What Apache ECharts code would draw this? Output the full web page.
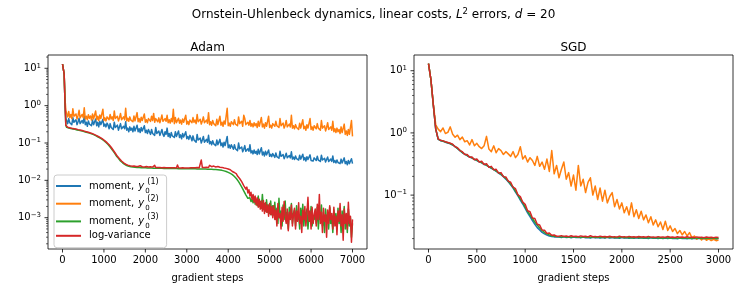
<!DOCTYPE html>
<html><head><meta charset="utf-8">
<script src="https://cdn.jsdelivr.net/npm/echarts@6/dist/echarts.min.js"></script>
<style>html,body{margin:0;padding:0;background:#fff}#c{width:747px;height:307px}</style>
</head><body><div id="c"></div>
<script>
// ---------- data ----------
const seriesNames = ['moment, y0(1)', 'moment, y0(2)', 'moment, y0(3)', 'log-variance'];
const colors = ['#1f77b4', '#ff7f0e', '#2ca02c', '#d62728'];

const adamSteps = [0,20,40,60,80,
100,125,150,175,200,225,250,275,300,325,350,375,400,425,450,475,500,525,550,575,600,625,650,675,700,725,750,775,800,825,850,875,900,925,950,975,1000,1025,1050,1075,
1100,1125,1150,1175,1200,1225,1250,1275,1300,1325,1350,1375,1400,1425,1450,1475,1500,1525,1550,1575,1600,1625,1650,1675,1700,1725,1750,1775,1800,1825,1850,1875,1900,1925,1950,1975,2000,2025,2050,2075,
2100,2125,2150,2175,2200,2225,2250,2275,2300,2325,2350,2375,2400,2425,2450,2475,2500,2525,2550,2575,2600,2625,2650,2675,2700,2725,2750,2775,2800,2825,2850,2875,2900,2925,2950,2975,3000,3025,3050,3075,
3100,3125,3150,3175,3200,3225,3250,3275,3300,3325,3350,3375,3400,3425,3450,3475,3500,3525,3550,3575,3600,3625,3650,3675,3700,3725,3750,3775,3800,3825,3850,3875,3900,3925,3950,3975,4000,4025,4050,4075,
4100,4125,4150,4175,4200,4225,4250,4275,4300,4325,4350,4375,4400,4425,4450,4475,4500,4525,4550,4575,4600,4625,4650,4675,4700,4725,4750,4775,4800,4825,4850,4875,4900,4925,4950,4975,5000,5025,5050,5075,
5100,5125,5150,5175,5200,5225,5250,5275,5300,5325,5350,5375,5400,5425,5450,5475,5500,5525,5550,5575,5600,5625,5650,5675,5700,5725,5750,5775,5800,5825,5850,5875,5900,5925,5950,5975,6000,6025,6050,6075,
6100,6125,6150,6175,6200,6225,6250,6275,6300,6325,6350,6375,6400,6425,6450,6475,6500,6525,6550,6575,6600,6625,6650,6675,6700,6725,6750,6775,6800,6825,6850,6875,6900,6925,6950,6975,7000];

const adamM1 = [12.9,11.8,7.0,1.3,0.45,
0.42,0.33,0.45,0.35,0.39,0.31,0.48,0.36,0.33,0.42,0.31,0.37,0.46,0.33,0.31,0.40,0.34,0.52,0.31,0.36,
0.28,0.39,0.32,0.36,0.29,0.41,0.31,0.33,0.44,0.29,0.36,0.27,0.38,0.31,0.29,0.43,0.28,0.32,0.27,0.34,
0.30,0.24,0.33,0.26,0.29,0.23,0.36,0.26,0.24,0.30,0.22,0.27,0.33,0.24,0.22,0.28,0.24,0.37,0.22,0.25,
0.20,0.27,0.22,0.25,0.20,0.28,0.21,0.23,0.30,0.20,0.24,0.19,0.26,0.21,0.20,0.29,0.19,0.22,0.18,0.23,
0.21,0.17,0.23,0.18,0.20,0.16,0.26,0.18,0.17,0.21,0.16,0.19,0.23,0.17,0.15,0.20,0.17,0.25,0.15,0.18,
0.14,0.19,0.155,0.175,0.14,0.2,0.15,0.16,0.21,0.14,0.165,0.13,0.18,0.145,0.14,0.2,0.13,0.15,0.125,0.16,
0.14,0.115,0.155,0.12,0.135,0.105,0.17,0.12,0.11,0.135,0.1,0.12,0.15,0.105,0.1,0.125,0.105,0.16,0.095,0.11,
0.09,0.115,0.095,0.105,0.085,0.12,0.09,0.095,0.125,0.085,0.1,0.078,0.105,0.085,0.08,0.15,0.075,0.088,0.072,0.09,
0.085,0.068,0.09,0.07,0.078,0.062,0.1,0.07,0.064,0.078,0.058,0.068,0.085,0.06,0.057,0.07,0.06,0.09,0.054,0.062,
0.051,0.065,0.053,0.06,0.049,0.068,0.051,0.055,0.075,0.048,0.057,0.045,0.06,0.048,0.046,0.065,0.044,0.05,0.043,0.052,
0.05,0.041,0.054,0.043,0.047,0.039,0.06,0.044,0.041,0.049,0.038,0.044,0.053,0.04,0.038,0.046,0.04,0.058,0.037,0.042,
0.036,0.045,0.038,0.042,0.035,0.047,0.037,0.039,0.05,0.035,0.041,0.033,0.043,0.036,0.035,0.048,0.034,0.038,0.033,0.04,
0.041,0.034,0.044,0.035,0.038,0.032,0.047,0.035,0.033,0.039,0.031,0.035,0.042,0.032,0.03,0.037,0.032,0.045,0.03,0.034,
0.029,0.035,0.03,0.033,0.028,0.037,0.029,0.031,0.04,0.028,0.032,0.026,0.034,0.028,0.027,0.038,0.028];

const adamM2 = [12.9,11.8,7.2,1.6,0.75,
0.62,0.5,0.7,0.48,0.58,0.45,0.82,0.52,0.47,0.6,0.44,0.54,0.75,0.47,0.43,0.58,0.48,0.88,0.44,0.52,
0.42,0.57,0.46,0.53,0.41,0.6,0.44,0.48,0.72,0.42,0.52,0.4,0.56,0.45,0.42,0.8,0.4,0.47,0.39,0.5,
0.52,0.42,0.58,0.44,0.5,0.4,0.72,0.45,0.41,0.52,0.39,0.47,0.62,0.42,0.39,0.5,0.42,0.85,0.39,0.46,
0.38,0.5,0.41,0.46,0.37,0.53,0.39,0.42,0.65,0.37,0.45,0.36,0.49,0.4,0.37,0.6,0.36,0.42,0.35,0.45,
0.47,0.38,0.52,0.4,0.62,0.36,0.45,0.41,0.37,0.47,0.35,0.43,0.56,0.38,0.35,0.45,0.38,0.55,0.35,0.42,
0.34,0.45,0.37,0.8,0.33,0.48,0.35,0.38,0.46,0.34,0.41,0.32,0.44,0.36,0.33,0.55,0.32,0.38,0.31,0.41,
0.43,0.35,0.48,0.36,0.41,0.33,0.58,0.37,0.34,0.43,0.32,0.39,0.5,0.35,0.32,0.41,0.34,0.65,0.31,0.37,
0.3,0.4,0.33,0.37,0.29,0.43,0.31,0.34,0.52,0.3,0.36,0.28,0.39,0.32,0.29,0.85,0.29,0.34,0.28,0.37,
0.38,0.31,0.42,0.32,0.36,0.29,0.5,0.33,0.3,0.38,0.28,0.55,0.45,0.31,0.28,0.36,0.3,0.4,0.28,0.33,
0.27,0.35,0.29,0.33,0.26,0.38,0.28,0.3,0.48,0.27,0.32,0.25,0.35,0.28,0.26,0.52,0.26,0.3,0.25,0.33,
0.34,0.28,0.38,0.29,0.32,0.26,0.45,0.29,0.27,0.34,0.25,0.3,0.4,0.27,0.25,0.32,0.27,0.55,0.25,0.29,
0.24,0.31,0.26,0.29,0.23,0.34,0.25,0.27,0.42,0.24,0.28,0.22,0.31,0.25,0.23,0.45,0.23,0.27,0.22,0.29,
0.3,0.24,0.33,0.25,0.28,0.22,0.4,0.25,0.23,0.29,0.21,0.26,0.35,0.23,0.21,0.27,0.22,0.38,0.2,0.24,
0.19,0.25,0.2,0.23,0.18,0.27,0.19,0.2,0.32,0.17,0.21,0.16,0.23,0.17,0.16,0.4,0.15];

const adamM3 = [12.9,11.8,7.0,1.2,0.3,
0.262,0.257,0.252,0.247,0.243,0.24,0.237,0.234,0.232,0.228,0.224,0.221,0.218,0.215,0.211,0.208,0.205,0.201,0.198,0.195,
0.191,0.187,0.184,0.18,0.176,0.172,0.167,0.162,0.157,0.152,0.147,0.142,0.137,0.132,0.126,0.121,0.115,0.109,0.103,0.097,
0.091,0.085,0.078,0.072,0.066,0.06,0.055,0.05,0.045,0.042,0.039,0.036,0.033,0.031,0.0295,0.028,0.0268,0.0258,0.025,0.0244,
0.0239,0.0235,0.0232,0.0229,0.0227,0.0225,0.0223,0.0222,0.0221,0.022,0.0219,0.0218,0.0218,0.0217,0.0217,0.0216,0.0216,0.0215,0.0215,0.0214,
0.0214,0.0213,0.0213,0.0213,0.0212,0.0212,0.0212,0.0211,0.0211,0.0211,0.021,0.021,0.021,0.0209,0.0209,0.0209,0.0208,0.0208,0.0208,0.0207,
0.0207,0.0207,0.0207,0.0206,0.0206,0.0206,0.0206,0.0205,0.0205,0.0205,0.0205,0.0205,0.0204,0.0204,0.0204,0.0204,0.0204,0.0204,0.0204,0.0204,
0.0204,0.0204,0.0203,0.0203,0.0203,0.0203,0.0202,0.0202,0.0202,0.0201,0.0201,0.0201,0.02,0.02,0.02,0.0199,0.0199,0.0198,0.0198,0.0197,
0.0197,0.0196,0.0196,0.0195,0.0194,0.0193,0.0192,0.0191,0.0189,0.0187,0.0185,0.0182,0.0179,0.0176,0.0172,0.0168,0.0163,0.0158,0.0153,0.0148,
0.0142,0.0135,0.0127,0.0119,0.011,0.0101,0.0092,0.0083,0.0074,0.0066,0.0059,0.0052,0.0046,0.0041,0.0037,0.0033,0.003,0.0034,0.0027,0.0031,
0.0025,0.0036,0.0023,0.0029,0.0021,0.0038,0.002,0.0027,0.0018,0.0042,0.0017,0.0024,0.0015,0.003,0.0014,0.0022,0.0013,0.0028,0.0012,0.0021,
0.0012,0.0026,0.0009,0.0018,0.0007,0.0033,0.001,0.0015,0.0006,0.0022,0.0009,0.0028,0.0008,0.0014,0.0005,0.0019,0.001,0.0024,0.0007,0.0013,
0.0016,0.0006,0.0021,0.0009,0.0012,0.0005,0.0018,0.0008,0.0023,0.0006,0.0014,0.0009,0.0017,0.0005,0.0012,0.0008,0.002,0.0006,0.0011,0.0009,
0.0015,0.0007,0.0019,0.0005,0.0013,0.0009,0.0022,0.0006,0.0011,0.0004,0.0017,0.0008,0.0012,0.0005,0.0019,0.0007,0.001,0.0004,0.0016,0.0008,
0.0013,0.0005,0.0018,0.0007,0.0011,0.0004,0.0015,0.0006,0.002,0.0005,0.0012,0.0004,0.0017,0.0006,0.001,0.0003,0.0007];

const adamLV = [12.9,11.8,7.0,1.2,0.3,
0.27,0.265,0.26,0.255,0.25,0.248,0.245,0.242,0.24,0.236,0.232,0.228,0.225,0.222,0.218,0.215,0.212,0.208,0.205,0.201,
0.198,0.194,0.19,0.186,0.182,0.178,0.173,0.168,0.163,0.158,0.152,0.147,0.142,0.137,0.131,0.126,0.12,0.114,0.108,0.102,
0.096,0.09,0.083,0.077,0.07,0.064,0.058,0.053,0.048,0.044,0.041,0.038,0.035,0.033,0.031,0.0295,0.028,0.027,0.026,0.0255,
0.025,0.0246,0.0243,0.024,0.0236,0.0242,0.0232,0.0236,0.0229,0.0234,0.0228,0.0245,0.0226,0.0231,0.0225,0.0229,0.0224,0.0235,0.0223,0.0228,
0.0222,0.0232,0.0221,0.0226,0.022,0.0252,0.0221,0.0228,0.0219,0.0233,0.022,0.0225,0.0218,0.0242,0.0219,0.0224,0.0217,0.0229,0.0216,0.0223,
0.0218,0.0236,0.0217,0.0222,0.0216,0.0228,0.0215,0.0258,0.0217,0.0222,0.0215,0.0231,0.0216,0.0221,0.0214,0.0226,0.0215,0.0238,0.0214,0.022,
0.0218,0.0235,0.0216,0.0224,0.0217,0.0241,0.0219,0.0226,0.0218,0.0232,0.035,0.0222,0.0229,0.022,0.0245,0.0223,0.0236,0.0221,0.0252,0.0224,
0.0232,0.0222,0.0241,0.0221,0.0228,0.0219,0.0235,0.0216,0.0224,0.0212,0.0222,0.0207,0.0214,0.0202,0.0209,0.0196,0.0201,0.0188,0.0192,0.0178,
0.0172,0.0158,0.0162,0.0145,0.0148,0.013,0.0128,0.0112,0.0108,0.0092,0.0094,0.0072,0.0078,0.0058,0.0066,0.0046,0.0056,0.0038,0.0048,0.0031,
0.0042,0.0026,0.0038,0.0022,0.0034,0.0019,0.0031,0.0017,0.0028,0.0015,0.0029,0.0013,0.0025,0.0014,0.0022,0.0011,0.0024,0.0012,0.002,0.001,
0.0021,0.0009,0.0016,0.0006,0.0024,0.001,0.0013,0.0005,0.0019,0.0008,0.0027,0.0011,0.0007,0.0017,0.00045,0.0014,0.0009,0.0022,0.0006,0.0012,
0.0018,0.0005,0.0015,0.0008,0.0025,0.0007,0.0011,0.0004,0.0016,0.0009,0.002,0.0006,0.0013,0.0035,0.0008,0.0015,0.0005,0.0019,0.0007,0.0012,
0.0017,0.0006,0.0023,0.0009,0.0042,0.0007,0.0014,0.0004,0.0018,0.0008,0.0012,0.0003,0.0016,0.0007,0.0021,0.0009,0.0013,0.0005,0.0019,0.0006,
0.0011,0.00035,0.0015,0.0008,0.0024,0.0006,0.0012,0.00025,0.0017,0.0007,0.0013,0.0005,0.0026,0.0007,0.0011,0.00022,0.0009];

const sgdSteps = [0,25,50,75,100,125,150,175,200,225,250,275,300,325,350,375,400,425,450,475,
500,525,550,575,600,625,650,675,700,725,750,775,800,825,850,875,900,925,950,975,
1000,1025,1050,1075,1100,1125,1150,1175,1200,1225,1250,1275,1300,1325,1350,1375,1400,1425,1450,1475,
1500,1525,1550,1575,1600,1625,1650,1675,1700,1725,1750,1775,1800,1825,1850,1875,1900,1925,1950,1975,
2000,2025,2050,2075,2100,2125,2150,2175,2200,2225,2250,2275,2300,2325,2350,2375,2400,2425,2450,2475,
2500,2525,2550,2575,2600,2625,2650,2675,2700,2725,2750,2775,2800,2825,2850,2875,2900,2925,2950,2975,3000];

const sgdM1 = [13,7.2,2.8,1.15,0.79,0.75,0.735,0.71,0.69,0.67,0.64,0.6,0.56,0.52,0.48,0.455,0.43,0.41,0.395,0.375,
0.36,0.343,0.33,0.313,0.3,0.285,0.27,0.256,0.242,0.226,0.213,0.197,0.181,0.164,0.146,0.13,0.112,0.097,0.083,0.072,
0.061,0.052,0.045,0.039,0.034,0.03,0.0275,0.0252,0.0238,0.0227,0.022,0.0216,0.0213,0.0212,
0.0212,0.0209,0.0213,0.0208,0.0211,0.0207,0.0212,0.0208,0.021,0.0206,0.0211,0.0207,0.0209,0.0205,0.021,0.0206,0.0209,0.0205,0.0208,0.0204,
0.0209,0.0205,0.0208,0.0204,0.0207,0.0203,0.0208,0.0204,0.0207,0.0203,0.0206,0.0202,0.0207,0.0203,0.0206,0.0202,0.0205,0.0201,0.0206,0.0202,
0.0205,0.0201,0.0204,0.02,0.0205,0.0201,0.0204,0.02,0.0203,0.0199,0.0204,0.02,0.0203,0.0199,0.0202,0.0198,0.0203,0.0199,0.0202,0.0198,
0.0201,0.0197,0.0202,0.0198,0.0201,0.0197,0.02];

const sgdM2 = [13,7.2,2.9,1.35,1.15,1.05,1.2,0.98,1.02,1.25,0.95,0.85,0.92,0.78,0.86,0.72,0.75,0.64,0.78,0.62,
0.68,0.6,0.56,0.62,0.88,0.55,0.5,0.62,0.48,0.56,0.52,0.45,0.5,0.46,0.42,0.5,0.4,0.45,0.6,0.38,
0.43,0.34,0.4,0.36,0.3,0.42,0.29,0.34,0.26,0.38,0.24,0.52,
0.22,0.3,0.19,0.26,0.34,0.18,0.23,0.14,0.21,0.12,0.3,0.14,0.18,0.11,0.16,0.19,0.1,0.14,0.085,0.13,0.08,0.12,0.075,0.095,0.11,0.065,0.085,0.06,
0.075,0.052,0.065,0.048,0.075,0.045,0.058,0.042,0.055,0.04,0.048,0.036,0.045,0.033,0.04,0.031,0.037,0.028,0.038,0.027,
0.032,0.026,0.029,0.024,0.027,0.023,0.026,0.022,0.025,0.0205,0.022,0.0195,0.021,0.019,0.0205,0.0188,0.0198,0.0186,0.0195,0.0185,0.019];

const sgdM3 = [13,7.2,2.8,1.15,0.8,0.755,0.74,0.715,0.695,0.675,0.645,0.605,0.565,0.525,0.485,0.455,0.435,0.412,0.398,0.377,
0.365,0.345,0.334,0.315,0.304,0.287,0.275,0.259,0.246,0.229,0.217,0.201,0.185,0.169,0.15,0.135,0.116,0.101,0.087,0.076,
0.064,0.055,0.048,0.042,0.037,0.033,0.0295,0.027,0.025,0.0238,0.0229,0.0222,0.0218,0.0216,
0.0215,0.0212,0.0216,0.0211,0.0214,0.021,0.0215,0.0211,0.0213,0.0209,0.0214,0.021,0.0212,0.0208,0.0213,0.0209,0.0212,0.0208,0.0211,0.0207,
0.0212,0.0208,0.0211,0.0207,0.021,0.0206,0.0211,0.0207,0.021,0.0206,0.0209,0.0205,0.021,0.0206,0.0209,0.0205,0.0208,0.0204,0.0209,0.0205,
0.0208,0.0204,0.0207,0.0203,0.0208,0.0204,0.0207,0.0203,0.0206,0.0202,0.0207,0.0203,0.0206,0.0202,0.0205,0.0201,0.0206,0.0202,0.0205,0.0201,
0.0204,0.02,0.0205,0.0201,0.0204,0.02,0.0203];

const sgdLV = [13,7.2,2.8,1.15,0.8,0.76,0.745,0.72,0.7,0.68,0.66,0.6,0.58,0.52,0.5,0.45,0.45,0.405,0.41,0.37,
0.38,0.34,0.35,0.31,0.32,0.28,0.29,0.255,0.26,0.226,0.23,0.198,0.196,0.168,0.161,0.134,0.127,0.101,0.095,0.077,
0.071,0.056,0.054,0.043,0.042,0.034,0.033,0.0275,0.0272,0.0242,0.0245,0.0226,0.0228,0.0218,
0.0219,0.0223,0.0217,0.022,0.0215,0.0222,0.0216,0.0219,0.0214,0.0221,0.0216,0.0218,0.0213,0.0222,0.0215,0.0217,0.0213,0.0219,0.0214,0.0216,
0.0212,0.0218,0.0213,0.0215,0.0211,0.0219,0.0213,0.0215,0.0211,0.0217,0.0212,0.0214,0.021,0.0216,0.0212,0.0214,0.021,0.0217,0.0211,0.0213,
0.0209,0.0215,0.0211,0.0213,0.0209,0.0216,0.021,0.0212,0.0208,0.0214,0.021,0.0212,0.0208,0.0214,0.0209,0.0211,0.0207,0.0213,0.0209,0.0211,
0.0207,0.0212,0.0208,0.021,0.0206,0.0211,0.0208];

const adamXTicks = [0,1000,2000,3000,4000,5000,6000,7000];
const sgdXTicks = [0,500,1000,1500,2000,2500,3000];
const adamYMajor = [1e-3,1e-2,1e-1,1,10];
const adamYMinor = [2e-4,3e-4,4e-4,5e-4,6e-4,7e-4,8e-4,9e-4,2e-3,3e-3,4e-3,5e-3,6e-3,7e-3,8e-3,9e-3,
  0.02,0.03,0.04,0.05,0.06,0.07,0.08,0.09,0.2,0.3,0.4,0.5,0.6,0.7,0.8,0.9,2,3,4,5,6,7,8,9,20];
const sgdYMajor = [0.1,1,10];
const sgdYMinor = [0.02,0.03,0.04,0.05,0.06,0.07,0.08,0.09,0.2,0.3,0.4,0.5,0.6,0.7,0.8,0.9,2,3,4,5,6,7,8,9];

// axis ranges
const adamXRange = [-350, 7350], adamYRange = [1.45e-4, 22.7];
const sgdXRange = [-150, 3150], sgdYRange = [0.0136, 17.9];

// ---------- chart ----------
const FONT = 'DejaVu Sans';
const chart = echarts.init(document.getElementById('c'), null, {renderer: 'canvas'});

function yFmt(v) {
  const e = Math.log10(v), r = Math.round(e);
  if (Math.abs(e - r) > 1e-6) return '';
  return '{b|10}{s|' + String(r).replace('-', '\u2212') + '}';
}
const yRich = {
  b: {fontFamily: FONT, fontSize: 10, lineHeight: 12, color: '#000'},
  s: {fontFamily: FONT, fontSize: 7, lineHeight: 7, verticalAlign: 'top', color: '#000'}
};
function xAxisCfg(idx, range, ticks, step) {
  return {
    type: 'value', gridIndex: idx, min: range[0], max: range[1],
    minInterval: step, maxInterval: step,
    axisLine: {show: false}, axisTick: {show: false}, splitLine: {show: false},
    axisLabel: {formatter: v => ticks.indexOf(v) >= 0 ? String(v) : '', margin: 6,
      fontFamily: FONT, fontSize: 10, color: '#000'},
    name: 'gradient steps', nameLocation: 'middle', nameGap: 24,
    nameTextStyle: {fontFamily: FONT, fontSize: 10, color: '#000'}
  };
}
function yAxisCfg(idx, range) {
  return {
    type: 'log', logBase: 10, gridIndex: idx, min: range[0], max: range[1],
    axisLine: {show: false}, axisTick: {show: false}, splitLine: {show: false},
    axisLabel: {formatter: yFmt, rich: yRich, margin: 7, color: '#000'}
  };
}
function lineSeries(idx, steps, vals, k) {
  return {
    type: 'line', name: seriesNames[k], xAxisIndex: idx, yAxisIndex: idx,
    data: steps.map((s, i) => [s, vals[i]]),
    showSymbol: false, symbol: 'none', animation: false, z: 2 + k,
    lineStyle: {width: 1.5, color: colors[k], join: 'round'},
    itemStyle: {color: colors[k]}
  };
}
function tickSeries(idx, pts, dir, len, width) {
  return {
    type: 'custom', xAxisIndex: idx, yAxisIndex: idx, silent: true, clip: false, z: 10,
    animation: false, data: pts,
    renderItem: function (params, api) {
      const p = api.coord([api.value(0), api.value(1)]);
      const shape = dir === 'y' ? {x1: p[0] - len, y1: p[1], x2: p[0], y2: p[1]}
                                : {x1: p[0], y1: p[1], x2: p[0], y2: p[1] + len};
      return {type: 'line', shape: shape, style: {stroke: '#000', lineWidth: width}};
    }
  };
}

const legendText = {};
legendText[seriesNames[0]] = '{m|moment, }{it|y}{sub|0}{sup|(1)}';
legendText[seriesNames[1]] = '{m|moment, }{it|y}{sub|0}{sup|(2)}';
legendText[seriesNames[2]] = '{m|moment, }{it|y}{sub|0}{sup|(3)}';
legendText[seriesNames[3]] = '{lv|log-variance}';

const option = {
  backgroundColor: '#fff',
  animation: false,
  title: [
    {text: 'Ornstein-Uhlenbeck dynamics, linear costs, {i|L}{s|2} errors, {i|d} = 20',
     left: 373.5, top: 7, textAlign: 'center', padding: 0,
     textStyle: {fontFamily: FONT, fontSize: 12, fontWeight: 'normal', color: '#000', lineHeight: 16,
       rich: {i: {fontFamily: FONT, fontSize: 12, fontStyle: 'italic', lineHeight: 16, color: '#000'},
              s: {fontFamily: FONT, fontSize: 8.5, lineHeight: 9, verticalAlign: 'top', color: '#000'}}}},
    {text: 'Adam', left: 207.5, top: 41, textAlign: 'center', padding: 0,
     textStyle: {fontFamily: FONT, fontSize: 12, fontWeight: 'normal', color: '#000', lineHeight: 14}},
    {text: 'SGD', left: 573.5, top: 41, textAlign: 'center', padding: 0,
     textStyle: {fontFamily: FONT, fontSize: 12, fontWeight: 'normal', color: '#000', lineHeight: 14}}
  ],
  legend: {
    data: seriesNames, orient: 'vertical', left: 54, top: 175,
    padding: [2.7, 8, 6.9, 2], itemGap: 1.1, itemWidth: 25, itemHeight: 2, icon: 'rect',
    backgroundColor: 'rgba(255,255,255,0.8)', borderColor: '#cccccc', borderWidth: 1, borderRadius: 3,
    formatter: name => legendText[name],
    textStyle: {fontFamily: FONT, fontSize: 10, color: '#000', lineHeight: 6,
      rich: {
        m: {fontFamily: FONT, fontSize: 10, lineHeight: 16.6, color: '#000', padding: [0, 0, 0, 3]},
        it: {fontFamily: FONT, fontSize: 10, fontStyle: 'italic', lineHeight: 16.6, color: '#000', padding: [0, 0, 0, 1]},
        sub: {fontFamily: FONT, fontSize: 7, lineHeight: 7, verticalAlign: 'bottom', width: 1, color: '#000', padding: [0, 0, 0, 1]},
        sup: {fontFamily: FONT, fontSize: 8, lineHeight: 8, verticalAlign: 'top', color: '#000', padding: [0, 0, 0, 1]},
        lv: {fontFamily: FONT, fontSize: 10, lineHeight: 6, color: '#000', padding: [0, 0, 0, 3]}
      }}
  },
  grid: [
    {left: 48, top: 55, width: 319, height: 194, show: true, borderColor: '#000', borderWidth: 0.8,
     backgroundColor: 'transparent', containLabel: false, outerBoundsMode: 'none'},
    {left: 414, top: 55, width: 319, height: 194, show: true, borderColor: '#000', borderWidth: 0.8,
     backgroundColor: 'transparent', containLabel: false, outerBoundsMode: 'none'}
  ],
  xAxis: [xAxisCfg(0, adamXRange, adamXTicks, 1000), xAxisCfg(1, sgdXRange, sgdXTicks, 500)],
  yAxis: [yAxisCfg(0, adamYRange), yAxisCfg(1, sgdYRange)],
  series: [
    lineSeries(0, adamSteps, adamM1, 0), lineSeries(0, adamSteps, adamM2, 1),
    lineSeries(0, adamSteps, adamM3, 2), lineSeries(0, adamSteps, adamLV, 3),
    lineSeries(1, sgdSteps, sgdM1, 0), lineSeries(1, sgdSteps, sgdM2, 1),
    lineSeries(1, sgdSteps, sgdM3, 2), lineSeries(1, sgdSteps, sgdLV, 3),
    tickSeries(0, adamXTicks.map(v => [v, adamYRange[0]]), 'x', 3.5, 0.8),
    tickSeries(0, adamYMajor.map(v => [adamXRange[0], v]), 'y', 3.5, 0.8),
    tickSeries(0, adamYMinor.map(v => [adamXRange[0], v]), 'y', 2, 0.6),
    tickSeries(1, sgdXTicks.map(v => [v, sgdYRange[0]]), 'x', 3.5, 0.8),
    tickSeries(1, sgdYMajor.map(v => [sgdXRange[0], v]), 'y', 3.5, 0.8),
    tickSeries(1, sgdYMinor.map(v => [sgdXRange[0], v]), 'y', 2, 0.6)
  ]
};
chart.setOption(option);
</script>
</body></html>
